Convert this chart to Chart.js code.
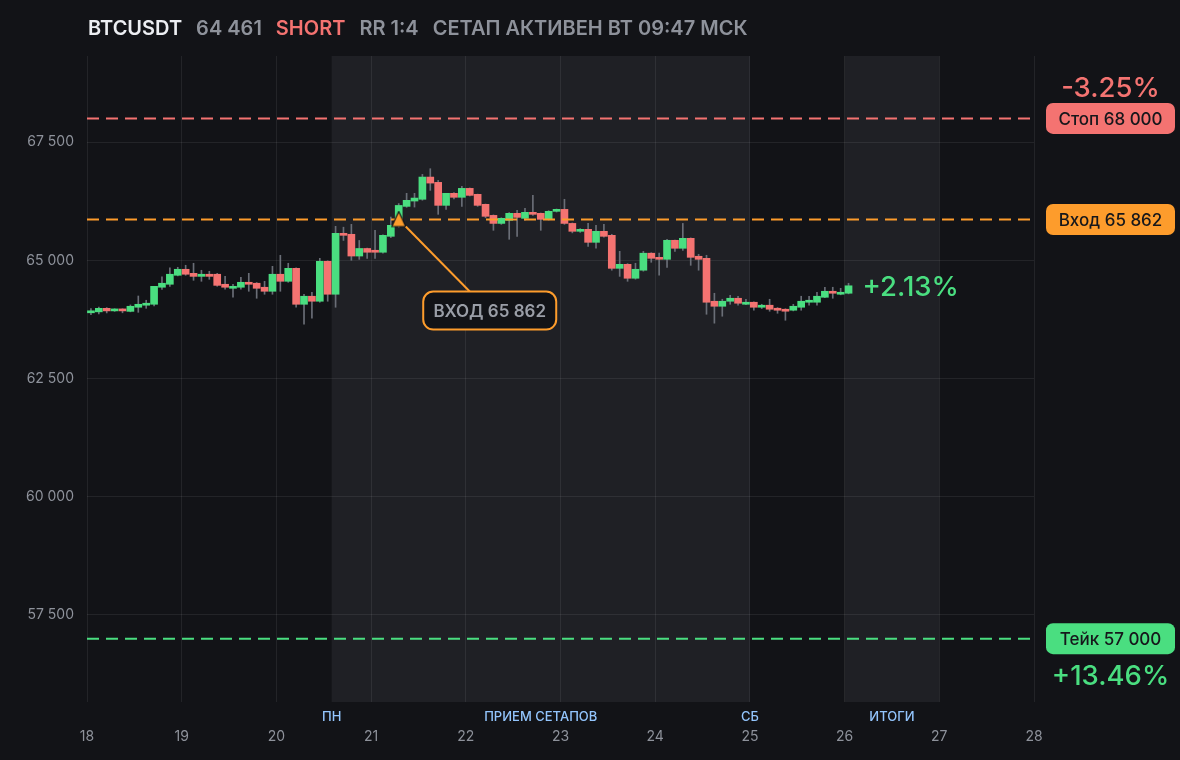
<!DOCTYPE html>
<html>
<head>
<meta charset="utf-8">
<script src="https://cdn.jsdelivr.net/npm/chart.js@4.4.1/dist/chart.umd.min.js"></script>
<style>
  html, body { margin: 0; padding: 0; background: #121317; }
  #wrap { width: 1180px; height: 760px; }
</style>
</head>
<body>
<div id="wrap"><canvas id="chart" width="1180" height="760"></canvas></div>
<script>
// 2h candles, first one starts on day 18 00:00
const symbol = 'BTCUSDT';
const side = 'SHORT';
const riskReward = 'RR 1:4';
const statusText = 'СЕТАП АКТИВЕН ВТ 09:47 МСК';
const startDay = 18;
const candleHours = 2;

const opens = [
  63890, 63910, 63985, 63930, 63965, 63920, 64007, 64050, 64070, 64430,
  64493, 64683, 64810, 64725, 64660, 64705, 64705, 64493, 64408, 64430,
  64535, 64515, 64430, 64345, 64705, 64556, 64830, 64070, 64240, 64134,
  64979, 64282, 65570, 65550, 65090, 65250, 65210, 65170, 65507, 65740,
  66140, 66253, 66290, 66760, 66648, 66162, 66416, 66332, 66521, 66395,
  66183, 65950, 65780, 65845, 65993, 65887, 66014, 65993, 65866, 66035,
  66077, 65780, 65613, 65655, 65380, 65613, 65528, 64830, 64915, 64620,
  64790, 65150, 65063, 65021, 65423, 65254, 65465, 65085, 65042, 64134,
  64028, 64134, 64197, 64070, 64113, 64007, 64050, 63986, 63965, 63944,
  64007, 64113, 64113, 64218, 64345, 64282, 64303
];
const highs = [
  63980, 64013, 64000, 63975, 63975, 64056, 64245, 64155, 64450, 64650,
  64840, 64852, 64895, 64937, 64789, 64768, 64725, 64662, 64493, 64640,
  64725, 64530, 64556, 64873, 65106, 64937, 64840, 64282, 64324, 65042,
  64990, 65718, 65700, 65760, 65420, 65260, 65634, 65540, 65915, 66200,
  66416, 66416, 66817, 66937, 66690, 66416, 66430, 66563, 66530, 66400,
  66190, 65960, 65900, 66010, 66056, 66100, 66373, 66000, 66050, 66085,
  66290, 65790, 65670, 65780, 65740, 65760, 65550, 65190, 64930, 64937,
  65190, 65160, 65150, 65444, 65430, 65780, 65475, 65127, 65106, 64303,
  64176, 64260, 64240, 64176, 64120, 64070, 64176, 64000, 63975, 64070,
  64240, 64240, 64324, 64430, 64430, 64408, 64514
];
const lows = [
  63850, 63865, 63887, 63920, 63890, 63910, 63900, 63985, 64035, 64385,
  64450, 64670, 64683, 64577, 64556, 64598, 64450, 64387, 64218, 64387,
  64345, 64197, 64282, 64282, 64345, 64535, 64007, 63648, 63775, 64113,
  64134, 64007, 65420, 65000, 65020, 65042, 65042, 65150, 65480, 65700,
  66120, 66126, 66270, 66479, 65972, 66078, 66300, 66140, 66360, 66140,
  65900, 65634, 65760, 65444, 65507, 65850, 65950, 65634, 65850, 66020,
  65760, 65580, 65590, 65296, 65254, 65490, 64790, 64660, 64556, 64600,
  64770, 64958, 64683, 64852, 65190, 65210, 64894, 64790, 63859, 63670,
  63817, 64070, 64050, 64060, 63944, 63980, 63923, 63880, 63732, 63930,
  63944, 64050, 64050, 64210, 64197, 64270, 64290
];
const closes = [
  63920, 63985, 63930, 63965, 63930, 64028, 64070, 64090, 64450, 64515,
  64705, 64810, 64705, 64660, 64705, 64660, 64470, 64430, 64450, 64535,
  64493, 64408, 64345, 64705, 64556, 64830, 64070, 64240, 64134, 64979,
  64282, 65570, 65528, 65090, 65250, 65170, 65170, 65528, 65740, 66160,
  66268, 66316, 66760, 66633, 66162, 66416, 66332, 66521, 66373, 66162,
  65930, 65780, 65887, 65993, 65908, 66014, 65972, 65866, 66035, 66077,
  65780, 65613, 65655, 65380, 65613, 65507, 64830, 64915, 64620, 64810,
  65150, 65042, 65021, 65423, 65254, 65465, 65063, 65021, 64113, 64028,
  64134, 64197, 64092, 64113, 64007, 64050, 63965, 63944, 63923, 64028,
  64134, 64134, 64240, 64345, 64303, 64324, 64461
];

const stopPrice = 68000;
const entryPrice = 65862;
const takePrice = 57000;
const entryIndex = 39;

const xTicks = [18, 19, 20, 21, 22, 23, 24, 25, 26, 27, 28];
const yTicks = [57500, 60000, 62500, 65000, 67500];

// highlighted periods (day units): setup window and results day
const shades = [[20 + 14 / 24, 25], [26, 27]];
const sessionNames = ['ПН', 'ПРИЕМ СЕТАПОВ', 'СБ', 'ИТОГИ'];

const GREEN = '#4ade80';
const RED = '#f47371';
const ORANGE = '#fd9c2c';
const BG = '#121317';

const fmt = v => String(v).replace(/\B(?=(\d{3})+(?!\d))/g, ' ');
const pct = v => (v * 100).toFixed(2) + '%';

const times = opens.map((_, i) => startDay + (i * candleHours + candleHours / 2) / 24);
const lastClose = closes[closes.length - 1];

// entry marker
const tri = document.createElement('canvas');
tri.width = 16; tri.height = 18;
{
  const t = tri.getContext('2d');
  t.beginPath();
  t.moveTo(8, 1); t.lineTo(15, 16); t.lineTo(1, 16); t.closePath();
  t.fillStyle = ORANGE; t.fill();
  t.lineWidth = 1.2; t.strokeStyle = BG; t.stroke();
}

function levelLine(price, color) {
  return {
    type: 'line',
    data: [{ x: xTicks[0], y: price }, { x: xTicks[xTicks.length - 1], y: price }],
    borderColor: color,
    borderWidth: 2,
    borderDash: [12, 7],
    pointRadius: 0,
    order: 1
  };
}

function pill(ctx, cx, cy, w, h, r, fill, text) {
  ctx.beginPath();
  ctx.roundRect(cx - w / 2, cy - h / 2, w, h, r);
  ctx.fillStyle = fill;
  ctx.fill();
  ctx.fillStyle = '#16171b';
  ctx.font = '500 17px Inter';
  ctx.textAlign = 'center';
  ctx.textBaseline = 'middle';
  ctx.fillText(text, cx, cy + 1);
}

const decor = {
  id: 'decor',
  beforeDraw(chart) {
    const { ctx, chartArea: a, scales: { x } } = chart;
    ctx.save();
    ctx.fillStyle = BG;
    ctx.fillRect(0, 0, chart.width, chart.height);
    ctx.fillStyle = '#1f2025';
    shades.forEach(([s, e]) => {
      const x0 = x.getPixelForValue(s), x1 = x.getPixelForValue(e);
      ctx.fillRect(x0, a.top, x1 - x0, a.bottom - a.top);
    });
    ctx.restore();
  },
  afterDraw(chart) {
    const { ctx, chartArea: a, scales: { x, y } } = chart;
    ctx.save();

    // header
    const parts = [
      [symbol, '#eceef2'],
      [fmt(lastClose), '#8e929b'],
      [side, RED],
      [riskReward, '#8e929b'],
      [statusText, '#8e929b']
    ];
    ctx.font = '600 20px Inter';
    ctx.textBaseline = 'middle';
    ctx.textAlign = 'left';
    let hx = 88;
    parts.forEach(([t, c]) => {
      ctx.fillStyle = c;
      ctx.fillText(t, hx, 29);
      hx += ctx.measureText(t).width + 14;
    });

    // session names under the plot
    const [s0, s1] = shades;
    const at = [s0[0], (s0[0] + s0[1]) / 2, s0[1], (s1[0] + s1[1]) / 2];
    ctx.font = '500 13px Inter';
    ctx.fillStyle = '#93c5fd';
    ctx.textAlign = 'center';
    sessionNames.forEach((n, i) => ctx.fillText(n, x.getPixelForValue(at[i]), 717));

    // right side price tags
    const tagX = 1110.5;
    const yStop = y.getPixelForValue(stopPrice);
    const yEntry = y.getPixelForValue(entryPrice);
    const yTake = y.getPixelForValue(takePrice);
    pill(ctx, tagX, yStop, 129, 31, 7, RED, 'Стоп ' + fmt(stopPrice));
    pill(ctx, tagX, yEntry, 129, 31, 7, ORANGE, 'Вход ' + fmt(entryPrice));
    pill(ctx, tagX, yTake, 129, 31, 7, GREEN, 'Тейк ' + fmt(takePrice));

    ctx.font = '500 27.5px Inter';
    ctx.textAlign = 'center';
    ctx.textBaseline = 'alphabetic';
    ctx.fillStyle = RED;
    ctx.fillText('-' + pct((stopPrice - entryPrice) / entryPrice), tagX, yStop - 21);
    ctx.fillStyle = GREEN;
    ctx.fillText('+' + pct((entryPrice - takePrice) / entryPrice), tagX, yTake + 46);

    // current pnl next to last candle
    const lx = x.getPixelForValue(times[times.length - 1]);
    const ly = y.getPixelForValue(lastClose);
    ctx.textAlign = 'left';
    ctx.textBaseline = 'middle';
    ctx.fillText('+' + pct((entryPrice - lastClose) / entryPrice), lx + 14, ly + 2);

    // entry callout
    const px = x.getPixelForValue(times[entryIndex]);
    const py = y.getPixelForValue(entryPrice);
    ctx.strokeStyle = ORANGE;
    ctx.lineWidth = 2;
    ctx.beginPath();
    ctx.moveTo(px + 7, py + 7);
    ctx.lineTo(px + 71, py + 72);
    ctx.stroke();
    ctx.beginPath();
    ctx.roundRect(px + 24.5, py + 72, 133, 38, 10);
    ctx.fillStyle = BG;
    ctx.fill();
    ctx.stroke();
    ctx.font = '600 17px Inter';
    ctx.fillStyle = '#9a9ea7';
    ctx.textAlign = 'center';
    ctx.fillText('ВХОД ' + fmt(entryPrice), px + 91, py + 92);

    ctx.restore();
  }
};

new Chart(document.getElementById('chart'), {
  type: 'bar',
  data: {
    datasets: [
      {
        label: 'wicks',
        data: times.map((t, i) => ({ x: t, y: [lows[i], highs[i]] })),
        backgroundColor: '#6a6e77',
        barThickness: 1,
        grouped: false,
        order: 3
      },
      {
        label: 'bodies',
        data: times.map((t, i) => ({ x: t, y: [opens[i], closes[i]] })),
        backgroundColor: closes.map((c, i) => c >= opens[i] ? GREEN : RED),
        barThickness: 7,
        minBarLength: 2,
        grouped: false,
        order: 2
      },
      levelLine(stopPrice, RED),
      levelLine(entryPrice, ORANGE),
      levelLine(takePrice, GREEN),
      {
        type: 'line',
        label: 'entry',
        data: [{ x: times[entryIndex], y: entryPrice }],
        showLine: false,
        pointStyle: tri,
        pointRadius: 8,
        order: 0
      }
    ]
  },
  options: {
    responsive: false,
    animation: false,
    events: [],
    layout: { padding: { top: 56, right: 146, bottom: 0, left: 0 } },
    plugins: { legend: { display: false }, tooltip: { enabled: false } },
    scales: {
      x: {
        type: 'linear',
        min: xTicks[0],
        max: xTicks[xTicks.length - 1],
        offset: false,
        afterBuildTicks: s => { s.ticks = xTicks.map(v => ({ value: v })); },
        afterFit: s => { s.height = 58; },
        grid: { color: 'rgba(255,255,255,0.075)', drawTicks: false, offset: false },
        border: { display: false },
        ticks: { color: '#8e929b', font: { family: 'Inter', size: 14 }, padding: 26, maxRotation: 0 }
      },
      y: {
        min: 55660,
        max: 69320,
        beginAtZero: false,
        afterBuildTicks: s => { s.ticks = yTicks.map(v => ({ value: v })); },
        afterFit: s => { s.width = 87; },
        grid: { color: 'rgba(255,255,255,0.075)', drawTicks: false },
        border: { display: false },
        ticks: { color: '#8e929b', font: { family: 'Inter', size: 14 }, padding: 13, callback: v => fmt(v) }
      }
    }
  },
  plugins: [decor]
});
</script>
</body>
</html>
